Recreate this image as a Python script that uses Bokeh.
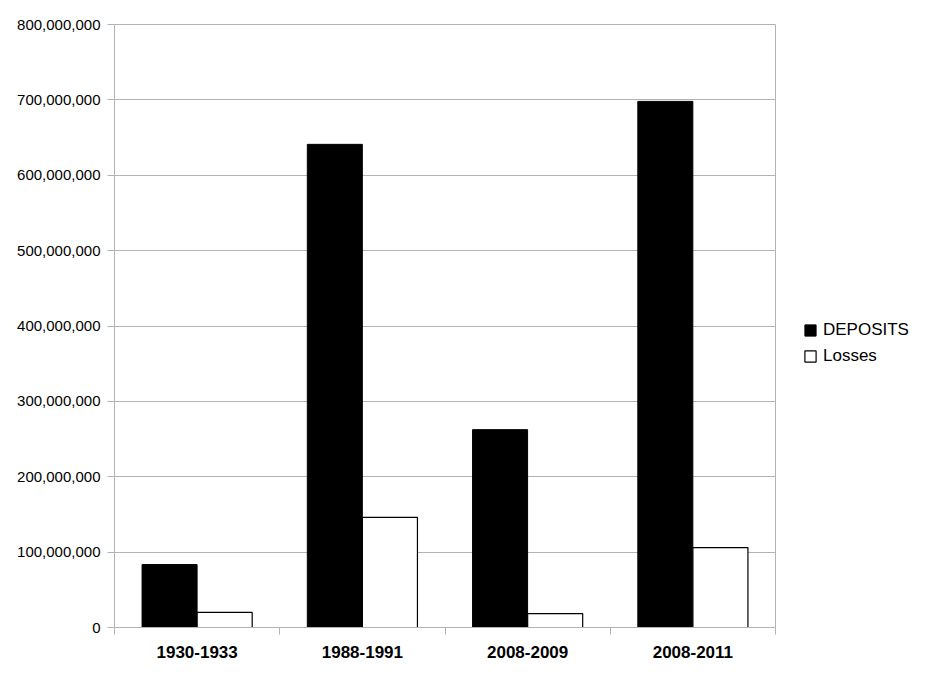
from bokeh.plotting import figure
from bokeh.models import (Range1d, FixedTicker, NumeralTickFormatter, Legend, LegendItem,
                          ColumnDataSource)
from bokeh.transform import dodge
from bokeh.embed import file_html
from bokeh.resources import INLINE

# Data
periods = ["1930-1933", "1988-1991", "2008-2009", "2008-2011"]
deposits = [83_500_000, 641_000_000, 262_500_000, 698_000_000]
losses = [20_000_000, 146_000_000, 18_500_000, 106_000_000]
y_ticks = [0, 100_000_000, 200_000_000, 300_000_000, 400_000_000,
           500_000_000, 600_000_000, 700_000_000, 800_000_000]

# one slot per period on a numeric axis, so that ticks can sit on the slot edges
centres = [i + 0.5 for i in range(len(periods))]
edges = list(range(len(periods) + 1))

source = ColumnDataSource(data=dict(x=centres, deposits=deposits, losses=losses))

GRID = "#b3b3b3"
FONT = "Liberation Sans"

p = figure(
    x_range=Range1d(0, len(periods)),
    y_range=Range1d(0, 800_000_000),
    frame_width=661,
    frame_height=603,
    min_border_left=114,
    min_border_top=24,
    min_border_bottom=50,
    min_border_right=10,
    toolbar_location=None,
    output_backend="svg",
)
p.background_fill_color = "white"
p.border_fill_color = "white"
p.outline_line_color = GRID
p.xgrid.grid_line_color = None
p.ygrid.grid_line_color = GRID
p.ygrid.ticker = FixedTicker(ticks=y_ticks)

# y axis
p.yaxis.ticker = FixedTicker(ticks=y_ticks)
p.yaxis.formatter = NumeralTickFormatter(format="0,0")
p.yaxis.axis_line_color = GRID
p.yaxis.major_tick_line_color = GRID
p.yaxis.major_tick_out = 7
p.yaxis.major_tick_in = 0
p.yaxis.minor_tick_line_color = None
p.yaxis.major_label_standoff = 7
p.yaxis.major_label_text_font = FONT
p.yaxis.major_label_text_font_size = "15px"
p.yaxis.major_label_text_color = "black"

# x axis: labels at slot centres, tick marks on slot edges
p.xaxis.ticker = FixedTicker(ticks=centres, minor_ticks=edges)
p.xaxis.major_label_overrides = {c: name for c, name in zip(centres, periods)}
p.xaxis.axis_line_color = GRID
p.xaxis.major_tick_line_color = None
p.xaxis.major_tick_out = 7
p.xaxis.major_tick_in = 0
p.xaxis.minor_tick_line_color = GRID
p.xaxis.minor_tick_out = 7
p.xaxis.minor_tick_in = 0
p.xaxis.major_label_standoff = 11
p.xaxis.major_label_text_font = FONT
p.xaxis.major_label_text_font_style = "bold"
p.xaxis.major_label_text_font_size = "17px"
p.xaxis.major_label_text_color = "black"

r_dep = p.vbar(x=dodge("x", -0.1667), top="deposits", width=0.333,
               source=source, fill_color="black", line_color="black")
r_los = p.vbar(x=dodge("x", 0.1667), top="losses", width=0.333,
               source=source, fill_color="white", line_color="black", line_width=1.2)

legend = Legend(
    items=[LegendItem(label="DEPOSITS", renderers=[r_dep]),
           LegendItem(label="Losses", renderers=[r_los])],
    location=(28, 261),
    orientation="vertical",
    border_line_color=None,
    background_fill_alpha=0,
    padding=0,
    margin=0,
    spacing=6,
    glyph_width=14,
    glyph_height=14,
    label_height=20,
    label_standoff=6,
    label_text_font=FONT,
    label_text_font_size="17px",
    label_text_color="black",
)
p.add_layout(legend, "right")

open("out.html", "w").write(file_html(p, INLINE))
